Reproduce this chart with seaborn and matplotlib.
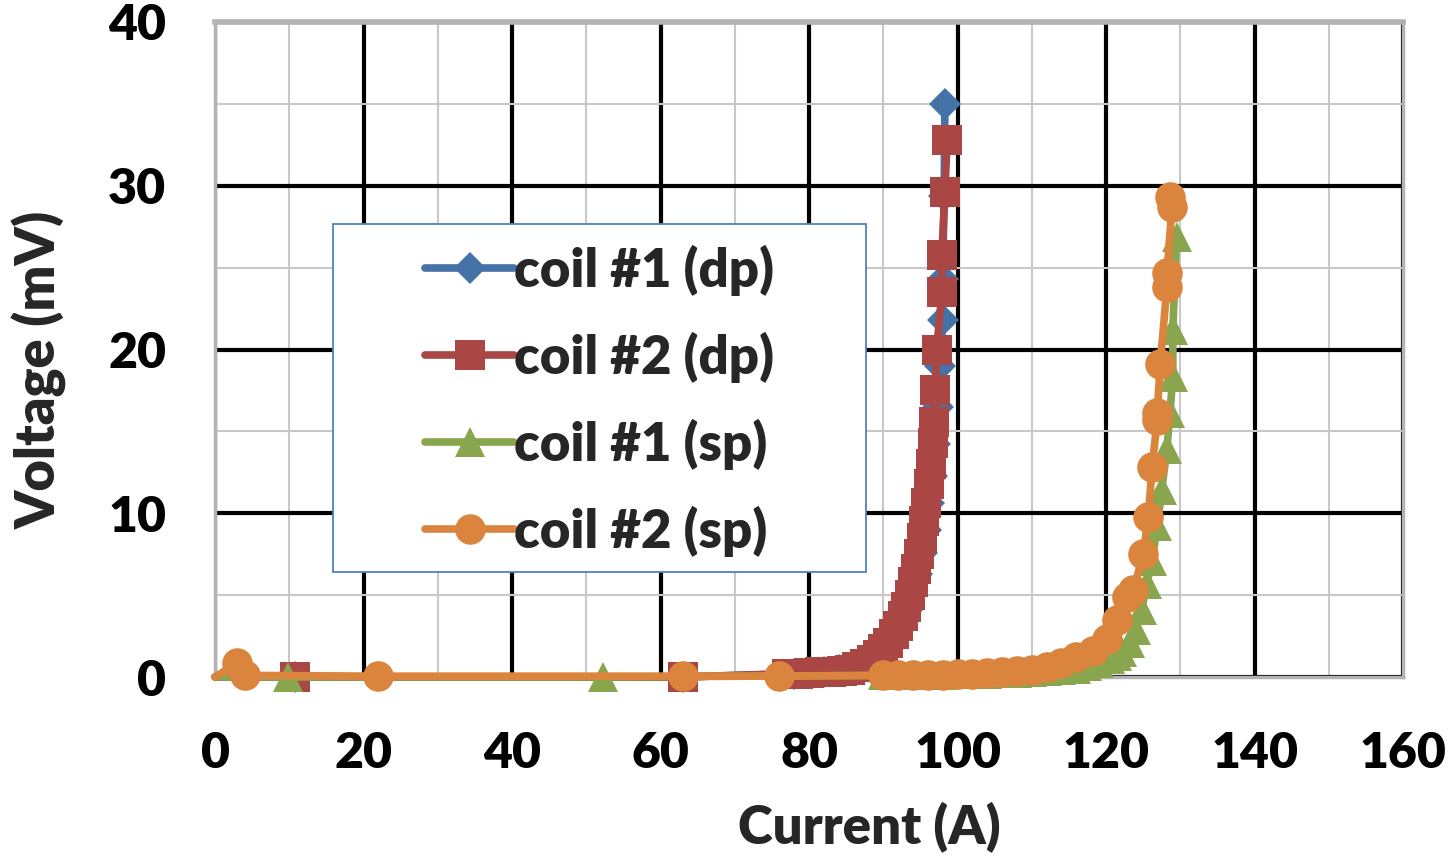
import matplotlib
matplotlib.use("Agg")
import matplotlib.pyplot as plt
import pandas as pd
import seaborn as sns
from matplotlib.patches import Rectangle
from matplotlib.lines import Line2D
from matplotlib.ticker import MultipleLocator

# ---------------- data ----------------
series_names = ["coil #1 (dp)", "coil #2 (dp)", "coil #1 (sp)", "coil #2 (sp)"]

coil1_dp_current = [0, 10.8, 63, 78, 80, 82, 84, 85.5, 87, 88.3, 89.5, 90.5, 91.5, 92.4,
                    93.2, 93.9, 94.6, 95.2, 95.7, 96.2, 96.6, 97.0, 97.4, 97.7, 98.0, 98.0,
                    98.2, 98.3]
coil1_dp_voltage = [0, 0, 0, 0.2, 0.25, 0.3, 0.4, 0.5, 0.7, 1.0, 1.4, 1.9, 2.5, 3.2,
                    4.1, 5.1, 6.3, 7.6, 9.0, 10.6, 12.3, 14.2, 16.5, 19.0, 21.8, 24.3,
                    29.4, 35.0]

coil2_dp_current = [0, 10.8, 63, 77, 78.5, 80, 81.5, 83, 84.5, 85.5, 86.5, 87.5, 88.5, 89.3,
                    90, 90.7, 91.4, 92, 92.6, 93.1, 93.6, 94.0, 94.4, 94.8, 95.2, 95.5,
                    95.8, 96.1, 96.4, 96.7, 96.9, 97.0, 97.2, 97.9, 97.9, 98.3, 98.6]
coil2_dp_voltage = [0, 0, 0, 0.2, 0.2, 0.25, 0.3, 0.3, 0.35, 0.45, 0.6, 0.8, 1.05, 1.35,
                    1.7, 2.1, 2.6, 3.1, 3.7, 4.3, 5.0, 5.8, 6.6, 7.5, 8.5, 9.5,
                    10.6, 11.8, 13.0, 14.3, 15.6, 17.5, 20.0, 23.5, 25.8, 29.6, 32.8]

coil1_sp_current = [0, 9.8, 52.3, 90, 92, 94, 96, 98, 100, 102, 104, 106, 108, 110, 112,
                    114, 116, 117.5, 119, 120.5, 121.5, 122.2, 123.2, 124.0, 124.8, 125.5,
                    126.2, 126.9, 127.5, 128.2, 128.6, 129.0, 129.0, 129.5]
coil1_sp_voltage = [0, 0, 0, 0.1, 0.1, 0.1, 0.15, 0.15, 0.2, 0.2, 0.2, 0.25, 0.25, 0.3, 0.35,
                    0.4, 0.5, 0.65, 0.85, 1.1, 1.3, 1.5, 2.1, 2.9, 4.1, 5.7,
                    7.1, 9.2, 11.4, 13.9, 16.1, 18.3, 21.2, 26.9]

coil2_sp_current = [0, 3.0, 4.0, 22, 63, 76, 90, 92, 94, 96, 98, 100, 102, 104, 106, 108,
                    110, 112, 114, 116, 118.3, 120.1, 121.5, 122.8, 123.7, 125.0, 125.7,
                    126.2, 126.9, 126.9, 127.3, 128.2, 128.2, 128.9, 128.6]
coil2_sp_voltage = [0, 0.85, 0.1, 0.05, 0.05, 0.05, 0.1, 0.1, 0.1, 0.15, 0.15, 0.2, 0.2, 0.25,
                    0.3, 0.35, 0.45, 0.6, 0.85, 1.2, 1.6, 2.3, 3.5, 4.9, 5.3, 7.5, 9.8,
                    12.8, 15.7, 16.1, 19.1, 23.8, 24.7, 28.7, 29.3]

x_ticks = [0, 20, 40, 60, 80, 100, 120, 140, 160]
y_ticks = [0, 10, 20, 30, 40]
x_label = "Current (A)"
y_label = "Voltage (mV)"

# ---------------- style ----------------
sns.set_theme(style="white")
plt.rcParams['font.family'] = ['Lato', 'DejaVu Sans']
plt.rcParams['font.weight'] = 'heavy'

colors = ["#4572A7", "#AA4643", "#89A54E", "#DB843D"]
markers = ["D", "s", "^", "o"]
msizes = [16, 22, 22, 22]
lw = 5.5

fig = plt.figure(figsize=(14.51, 8.58), dpi=100)
ax = fig.add_axes([215 / 1451, (858 - 677) / 858, 1188 / 1451, 655 / 858])

all_data = [(coil1_dp_current, coil1_dp_voltage),
            (coil2_dp_current, coil2_dp_voltage),
            (coil1_sp_current, coil1_sp_voltage),
            (coil2_sp_current, coil2_sp_voltage)]

handles = []
for name, (xs, ys), c, m, ms in zip(series_names, all_data, colors, markers, msizes):
    df = pd.DataFrame({"Current": xs, "Voltage": ys})
    sns.lineplot(data=df, x="Current", y="Voltage", ax=ax, sort=False, estimator=None,
                 color=c, marker=m, markersize=ms, markeredgewidth=0, linewidth=lw,
                 markevery=slice(1, None), zorder=3, legend=False, clip_on=False)
    handles.append(Line2D([], [], color=c, marker=m, markersize=ms, markeredgewidth=0,
                          linewidth=lw, solid_capstyle='round'))

ax.set_xlim(0, 160)
ax.set_ylim(0, 40)
ax.set_xticks(x_ticks)
ax.set_yticks(y_ticks)
ax.xaxis.set_minor_locator(MultipleLocator(10))
ax.yaxis.set_minor_locator(MultipleLocator(5))
ax.set_axisbelow(True)
ax.grid(which='major', color='black', linewidth=3.0)
ax.grid(which='minor', color='#C8C8C8', linewidth=1.5)

ax.tick_params(axis='both', which='major', direction='out', length=10, width=1.5,
               color='#A6A6A6', labelcolor='black')
ax.tick_params(axis='both', which='minor', length=0)
ax.tick_params(axis='x', labelsize=36, pad=29)
ax.tick_params(axis='y', labelsize=36, pad=25)

for s in ax.spines.values():
    s.set_color('#B3B3B3')
    s.set_linewidth(2.5)
    s.set_zorder(2.5)
ax.spines['top'].set_linewidth(4)

ax.set_xlabel(x_label, fontsize=38, fontweight='heavy', va='center')
ax.set_ylabel(y_label, fontsize=39, fontweight='heavy', va='center')
ax.xaxis.set_label_coords(0.5505, -0.2305)
ax.yaxis.set_label_coords(-0.147, 0.469)

# legend box
ax.add_patch(Rectangle((0.0993, 0.160), 0.4487, 0.532, transform=ax.transAxes,
                       facecolor='white', edgecolor='#4F81BD', linewidth=1.3, zorder=5))
leg = ax.legend(handles, series_names, loc='center', bbox_to_anchor=(0.3237, 0.422),
                frameon=False, prop=dict(family='Lato', weight='heavy', size=38),
                handlelength=1.7, handletextpad=0.0, labelspacing=0.68, borderpad=0)
leg.set_zorder(6)

fig.savefig("out.png", dpi=100)
